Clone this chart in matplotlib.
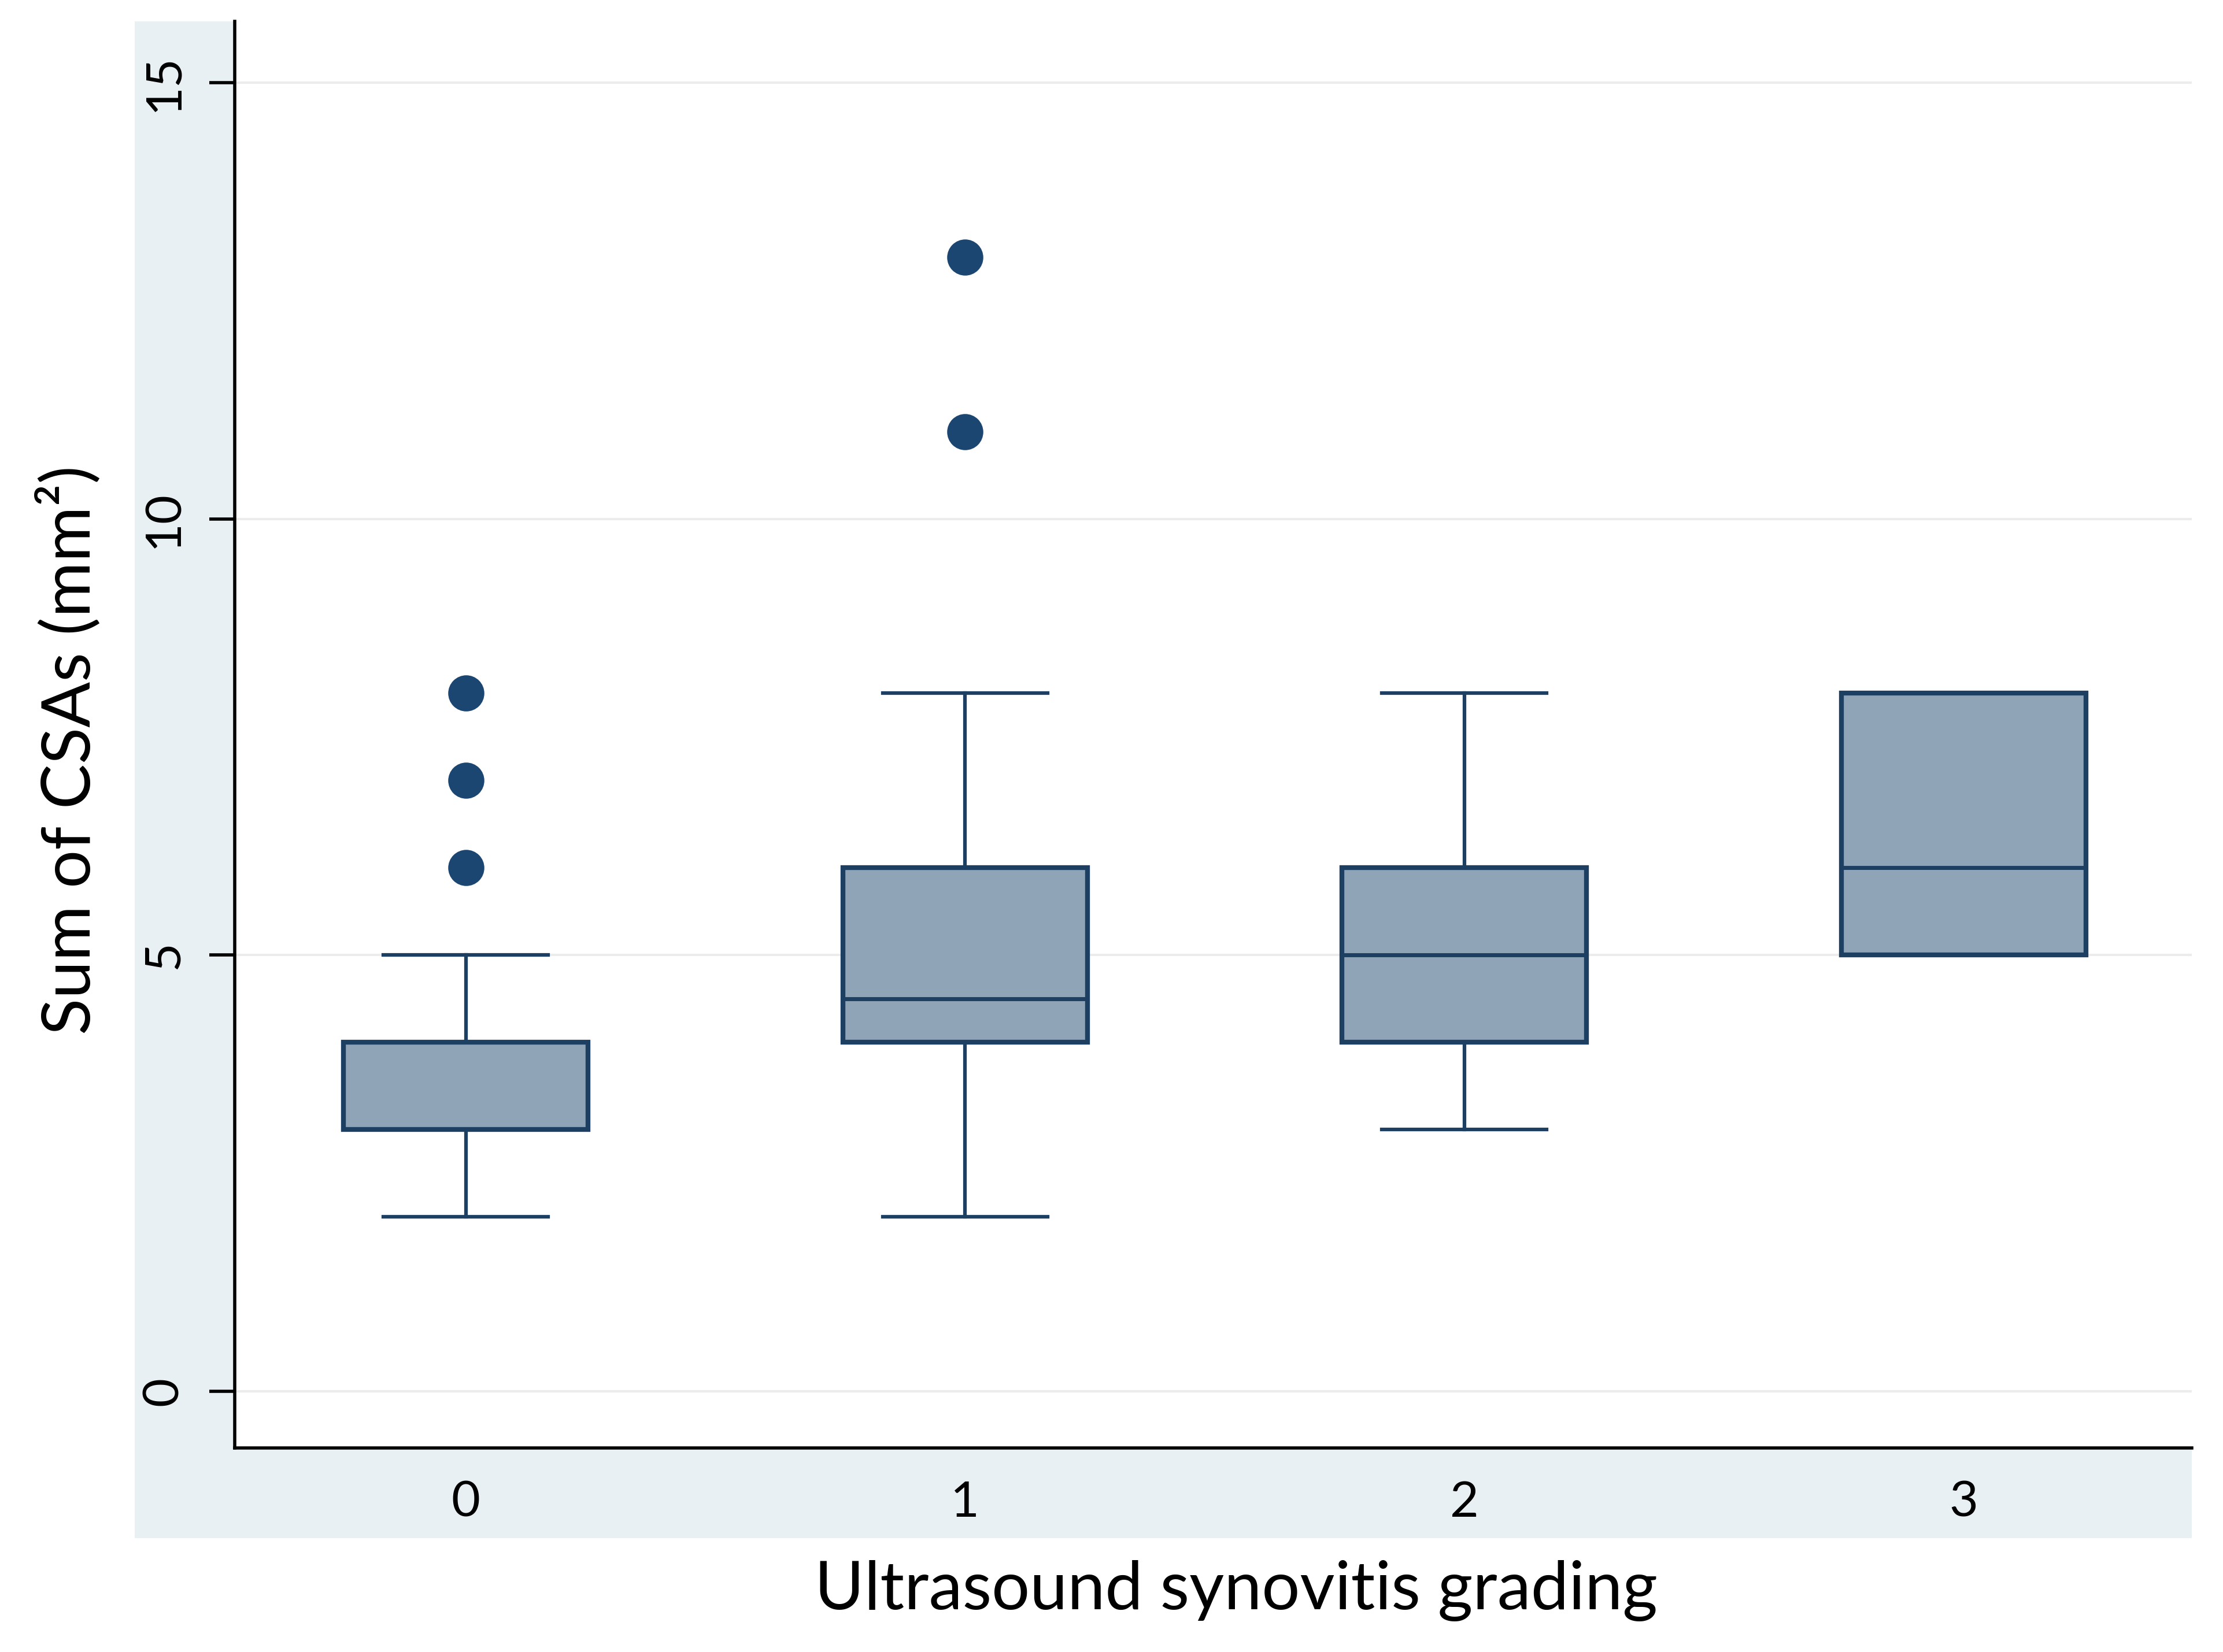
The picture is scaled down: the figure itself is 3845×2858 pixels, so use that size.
import matplotlib
matplotlib.use("Agg")
import matplotlib.pyplot as plt
from matplotlib.patches import Rectangle

plt.rcParams['font.family'] = ['Lato', 'DejaVu Sans']

# Box summaries
grades = [0, 1, 2, 3]
whisker_low = [2, 2, 3, 5]
q1 = [3, 4, 4, 5]
medians = [4, 4.5, 5, 6]
q3 = [4, 6, 6, 8]
whisker_high = [5, 8, 8, 8]
outliers = [[6, 7, 8], [11, 13], [], []]

y_ticks = [0, 5, 10, 15]

navy = '#1d3f62'
box_fill = '#90a4b8'
dot_col = '#1b4671'
bg_col = '#e9f0f3'

stats = []
for i in range(len(grades)):
    stats.append({
        'whislo': whisker_low[i], 'q1': q1[i], 'med': medians[i],
        'q3': q3[i], 'whishi': whisker_high[i], 'fliers': outliers[i],
    })

fig = plt.figure(figsize=(38.45, 28.58), dpi=100)
fig.patch.set_facecolor('white')

# light graph region behind the axes
fig.patches.append(Rectangle((0.0605, 0.0690), 0.9255, 0.9180,
                             transform=fig.transFigure, facecolor=bg_col,
                             edgecolor='none', zorder=-10))

ax = fig.add_axes([0.1055, 0.1235, 0.8805, 0.8635])
ax.set_facecolor('white')

ax.bxp(stats, positions=grades, widths=0.49, capwidths=0.33,
       patch_artist=True, showfliers=True,
       boxprops=dict(facecolor=box_fill, edgecolor=navy, linewidth=6),
       medianprops=dict(color=navy, linewidth=5),
       whiskerprops=dict(color=navy, linewidth=4.5),
       capprops=dict(color=navy, linewidth=4.5),
       flierprops=dict(marker='o', markersize=44, markerfacecolor=dot_col,
                       markeredgecolor=dot_col))

ax.set_xlim(-0.463, 3.457)
ax.set_ylim(-0.65, 15.7)
ax.set_yticks(y_ticks)
ax.set_yticklabels([str(t) for t in y_ticks], rotation=90, va='center')
ax.set_xticks(grades)
ax.set_xticklabels([str(g) for g in grades])

ax.yaxis.grid(True, color='#ececec', linewidth=3)
ax.set_axisbelow(True)

for side in ['top', 'right']:
    ax.spines[side].set_visible(False)
ax.spines['left'].set_linewidth(4)
ax.spines['bottom'].set_linewidth(4)

ax.tick_params(axis='y', length=32, width=4, pad=28, labelsize=62)
ax.tick_params(axis='x', length=0, pad=40, labelsize=62)

fig.text(0.031, 0.546, 'Sum of CSAs (mm²)', rotation=90, ha='center',
         va='center', fontsize=84)
fig.text(0.556, 0.037, 'Ultrasound synovitis grading', ha='center',
         va='center', fontsize=84)

fig.savefig('out.png', dpi=100)
